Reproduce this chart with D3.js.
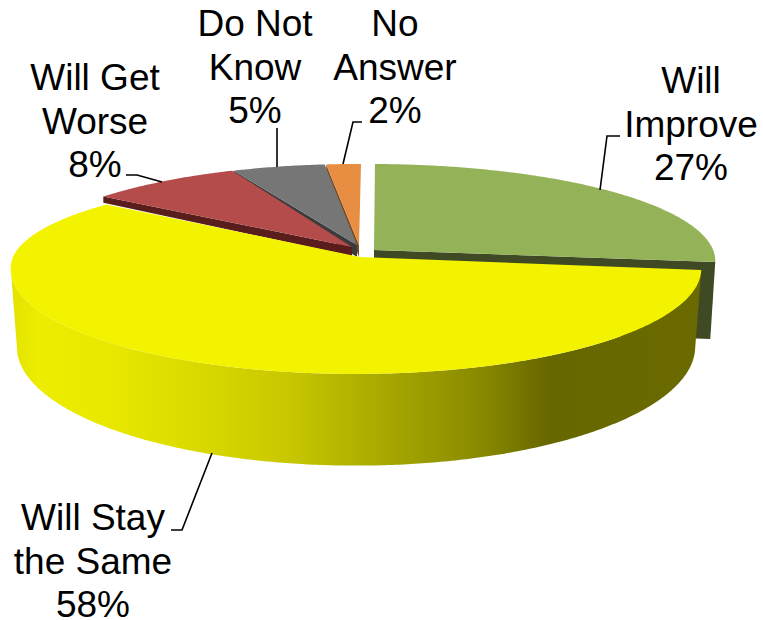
<!DOCTYPE html>
<html><head><meta charset="utf-8">
<script src="https://cdn.jsdelivr.net/npm/d3@7/dist/d3.min.js"></script>
<style>html,body{margin:0;padding:0;background:#fff}svg{display:block}text{font-family:"Liberation Sans",Arial,sans-serif;font-size:37px;fill:#000}</style>
</head><body><svg id="c" width="763" height="620"></svg>
<script>
// Data
const categories = ["Will Improve","Will Stay the Same","Will Get Worse","Do Not Know","No Answer"];
const values = [27, 58.6, 7.8, 4.8, 1.8];
const percentLabels = ["27%","58%","8%","5%","2%"];
const labelLines = [["Will","Improve"],["Will Stay","the Same"],["Will Get","Worse"],["Do Not","Know"],["No","Answer"]];
const topColors = ["#94b257","#f3f300","#b34c4a","#767676","#e88e42"];
const wallColors = ["#3f4a24","#6a6a00","#591d1c","#3b3b3b","#7a4a22"];

// Layout
const P = {cx:361, cy:257, R:343, B:103.6, k:0.114, m:0.0145};
const Q = {cx:356, cy:333, R:337, B:117.5, k:0.114, m:0};
const apexShift = [[13,-7],[-1,0],[-9,-10],[-4,-12],[-2,-12]];
const rimShift = [[14,-7],[0,0],[-3,0],[-1.5,0],[0,0]];
const backLift = [0,13,0,0,0];
const wallDepth = [null,null,9,12,12];
const labelPos = [[691,93],[93,530],[95,90],[255,36],[395,36]];
const leaders = [
  [[600,190],[607,136],[620,136]],
  [[212,453],[182,530],[171,530]],
  [[162,182],[137,175],[126,175]],
  [[277,167],[277,128]],
  [[343,164],[353,122],[362,122]]
];
const LH = 43.7;

const svg = d3.select("#c");
const defs = svg.append("defs");
const grad = defs.append("linearGradient").attr("id","side").attr("gradientUnits","userSpaceOnUse")
  .attr("x1",11).attr("x2",700).attr("y1",0).attr("y2",0);
[[0,"#e2e200"],[0.04,"#eded00"],[0.13,"#e9e900"],[0.25,"#dcdc00"],[0.4,"#c8c800"],[0.55,"#a6a600"],[0.68,"#8a8a00"],[0.78,"#676700"],[1,"#6a6a00"]]
  .forEach(s=>grad.append("stop").attr("offset",s[0]).attr("stop-color",s[1]));

const pie = d3.pie().sort(null).value(d=>d);
const arcs = pie(values);
const line = d3.line();

function proj(a,p,i){
  const u=Math.sin(a), v=-Math.cos(a), s=1/(1-p.k*v+p.m*u);
  const sh = i==null?[0,0]:rimShift[i];
  const lift = i==null?0:backLift[i]*Math.max(0,-v);
  return [p.cx+p.R*u*s+sh[0], p.cy+p.B*v*s+sh[1]*(1+v)+lift];
}
function rim(a0,a1,p,i){
  const n=Math.max(2,Math.ceil((a1-a0)/0.01));
  return d3.range(n+1).map(j=>proj(d3.interpolateNumber(a0,a1)(j/n),p,i));
}
const apex = i=>[P.cx+apexShift[i][0],P.cy+apexShift[i][1]];

// green: wall on closing edge, then top
{
  const a=arcs[0], tip=proj(a.endAngle,P,0), bot=[tip[0]-5,tip[1]+77], ap=apex(0);
  svg.append("path").attr("d",line([ap,tip,bot,[ap[0],ap[1]+77]])+"Z").attr("fill",wallColors[0]);
  svg.append("path").attr("d",line([ap,...rim(a.startAngle,a.endAngle,P,0)])+"Z").attr("fill",topColors[0]);
}
// small back slices, far to near
[4,3,2].forEach(i=>{
  const a=arcs[i], ap=apex(i), d=wallDepth[i], st=proj(a.startAngle,P,i);
  svg.append("path").attr("d",line([ap,st,[st[0],st[1]+d*0.7],[ap[0],ap[1]+d]])+"Z").attr("fill",wallColors[i]);
  svg.append("path").attr("d",line([ap,...rim(a.startAngle,a.endAngle,P,i)])+"Z").attr("fill",topColors[i]);
});
// yellow: outer wall, then top
{
  const a=arcs[1];
  const angEnd=Math.PI*1.444;
  const up=rim(a.startAngle,angEnd,P,1), lo=rim(a.startAngle,angEnd,Q,null).reverse();
  svg.append("path").attr("d",line([...up,...lo])+"Z").attr("fill","url(#side)");
  svg.append("path").attr("d",line([apex(1),...rim(a.startAngle,a.endAngle,P,1)])+"Z").attr("fill",topColors[1]);
}
// leaders
svg.selectAll("path.lead").data(leaders).join("path").attr("class","lead")
  .attr("d",d=>line(d)).attr("fill","none").attr("stroke","#000").attr("stroke-width",1.6);
// labels
categories.forEach((c,i)=>{
  const t=svg.append("text").attr("text-anchor","middle");
  [...labelLines[i],percentLabels[i]].forEach((s,j)=>{
    t.append("tspan").attr("x",labelPos[i][0]).attr("y",labelPos[i][1]+j*LH).text(s);
  });
});
</script></body></html>
